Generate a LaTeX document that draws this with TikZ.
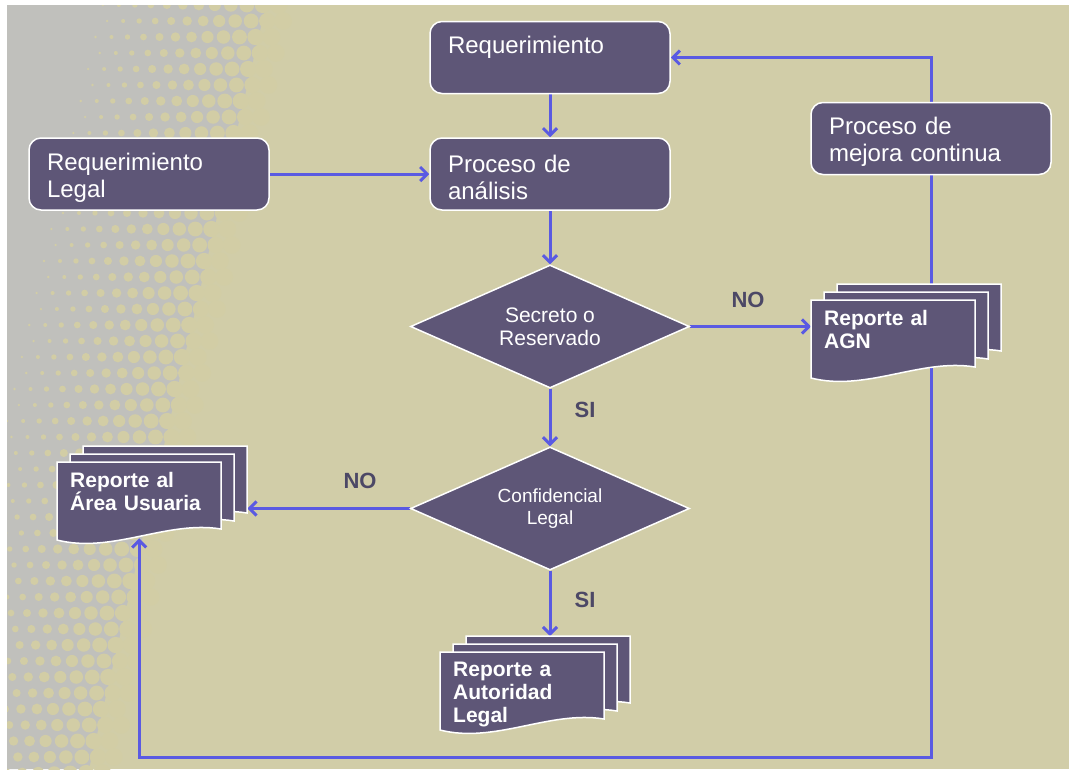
\documentclass[tikz,border=0pt]{standalone}
\usepackage{fontspec}
\setmainfont{Liberation Sans}
\usetikzlibrary{arrows.meta,shapes.geometric}
\definecolor{khaki}{HTML}{D1CDA8}
\definecolor{dotc}{HTML}{D2CDA5}
\definecolor{fog}{HTML}{C0C0BC}
\definecolor{plum}{HTML}{5E5677}
\definecolor{flowblue}{HTML}{5A5AE2}
\definecolor{tag}{HTML}{4C4866}
\pgfdeclarelayer{bgfill}
\pgfdeclarelayer{lines}
\pgfsetlayers{bgfill,lines,main}
\tikzset{
  box/.style={rectangle,rounded corners=12pt,draw=white,line width=1.5pt,fill=plum,text=white,align=left,text width=204pt,inner xsep=18pt,inner ysep=0pt,minimum height=72pt,text height=24pt,font=\fontsize{24}{27}\selectfont},
  decision/.style={diamond,draw=white,line width=1.5pt,fill=plum,text=white,align=center,aspect=2.27,inner sep=0pt,minimum width=279pt,minimum height=123pt},
  docshape/.style={draw=white,line width=1.5pt,fill=plum},
  docbox/.style={anchor=north west,minimum width=164pt,minimum height=76pt,inner sep=0pt},
  doctext/.style={anchor=north west,text=white,align=left,text width=150pt,inner xsep=13pt,inner ysep=10pt,font=\fontsize{21}{23}\selectfont\bfseries},
  arrow/.style={-{Straight Barb[length=7pt,width=14pt]},line width=3pt,flowblue},
  answer/.style={text=tag,font=\fontsize{22}{24}\selectfont\bfseries}
}
% three stacked report sheets, front one at (#2,#3)
\newcommand{\docstack}[4]{%
  \foreach \k in {2,1,0} {
    \draw[docshape] ({#2+13*\k},{#3-8*\k}) -- ++(164,0) -- ++(0,67) .. controls +(-54,-9) and +(55,14) .. ++(-164,11) -- cycle;
  }
  \node[docbox] (#1-b) at ({#2+26},{#3-16}) {};
  \node[docbox] (#1) at (#2,#3) {};
  \node[doctext] (#1-t) at (#2,#3) {#4};
}

\begin{document}
\begin{tikzpicture}[x=1pt,y=-1pt]
  \useasboundingbox (0,0) rectangle (1069,769);
  \begin{pgfonlayer}{bgfill}
    \fill[khaki] (7,5) rectangle (1069,769);
    \begin{scope}
      \clip (7,5) rectangle (1069,769);
      \fill[fog] (7,5) -- (266,5) -- (89,769) -- (7,769) -- cycle;
      % halftone dots
      \foreach \r in {0,...,48} {
        \foreach \c in {0,...,11} {
          \pgfmathsetmacro{\dy}{5+16*\r}
          \pgfmathsetmacro{\dx}{280-0.23*\dy-16*\c+8*mod(\r,2)}
          \pgfmathsetmacro{\dr}{max(8.8-0.68*\c,0.8)}
          \fill[dotc] (\dx,\dy) circle[radius=\dr];
        }
      }
    \end{scope}
  \end{pgfonlayer}

  \node[box,text depth=32pt] (req) at (550,57.5) {Requerimiento};
  \node[box] (legal) at (149,174) {Requerimiento\\Legal};
  \node[box] (analisis) at (550,174) {Proceso de\\análisis};
  \node[box] (mejora) at (931,138.5) {Proceso de\\mejora continua};
  \node[decision,font=\fontsize{21}{23}\selectfont] (secreto) at (550,326.5) {Secreto o\\Reservado};
  \node[decision,font=\fontsize{19}{22}\selectfont] (confid) at (550,508.5) {Confidencial\\Legal};

  \docstack{agn}{811}{300}{Reporte al\\AGN}
  \docstack{area}{57}{462}{Reporte al\\Área Usuaria}
  \docstack{autoridad}{440}{652}{Reporte a\\Autoridad\\Legal}

  \node[answer] (no1) at (748,300) {NO};
  \node[answer] (si1) at (585,410) {SI};
  \node[answer] (no2) at (360,481) {NO};
  \node[answer] (si2) at (585,600) {SI};

  \begin{pgfonlayer}{lines}
    \draw[arrow] (req) -- (analisis);
    \draw[arrow] (legal) -- (analisis);
    \draw[arrow] (analisis) -- (secreto);
    \draw[arrow] (secreto.east) -- (secreto.east -| agn.west);
    \draw[arrow] (secreto.south) -- (confid.north);
    \draw[arrow] (confid.west) -- (confid.west -| area-b.east);
    \draw[arrow] (confid.south) -- (confid.south |- autoridad-b.north);
    \draw[arrow] (mejora.north) |- (req.east);
    \coordinate (floor) at (550,757);
    \draw[arrow] (mejora.south) -- (mejora.south |- floor) -| (area.south);
  \end{pgfonlayer}
\end{tikzpicture}
\end{document}
